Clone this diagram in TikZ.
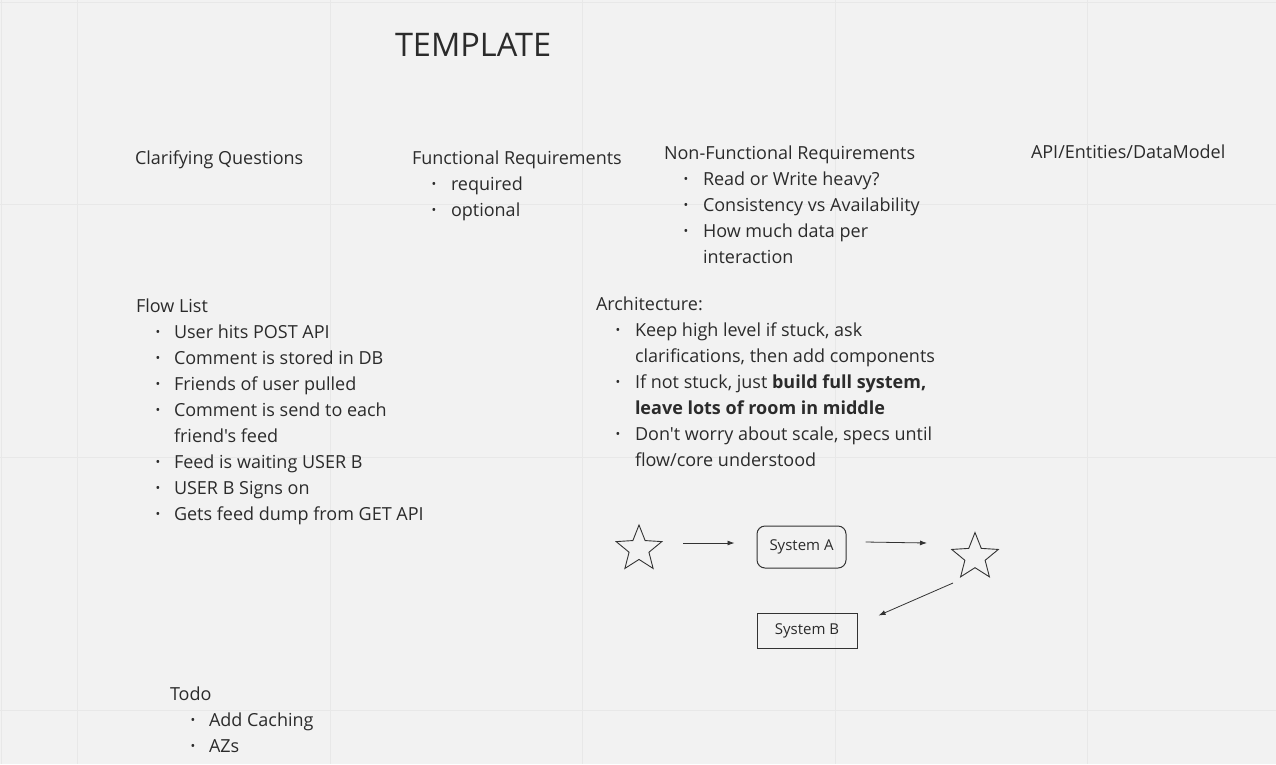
\documentclass[tikz,border=0pt]{standalone}
\usepackage{fontspec}
\setmainfont{Open Sans}[Ligatures=TeXOff]
\usetikzlibrary{shapes.geometric,arrows.meta}
\definecolor{bg}{HTML}{F2F2F2}
\definecolor{gridc}{HTML}{E8E8E8}
\definecolor{ink}{HTML}{2B2B2B}
\definecolor{linec}{HTML}{333333}
\tikzset{
 txt/.style={anchor=base west, inner sep=0pt, outer sep=0pt, text=ink, font=\fontsize{18}{26}\selectfont},
 bul/.style={anchor=base, inner sep=0pt, outer sep=0pt, text=ink, font=\fontsize{12.5}{14}\selectfont},
 titletxt/.style={anchor=base west, inner sep=0pt, outer sep=0pt, text=ink, font=\fontsize{32.5}{38}\selectfont},
 sysbox/.style={draw=linec, line width=1pt, text=ink, font=\fontsize{15}{18}\selectfont, inner sep=0pt},
 starnode/.style={draw=linec, line width=0.9pt, shape=star, star points=5, star point ratio=2.3, inner sep=0pt},
 arr/.style={draw=linec, line width=0.8pt, -{Latex[length=7pt,width=5pt]}},
 gridline/.style={draw=gridc, line width=0.6pt}
}
\begin{document}
\begin{tikzpicture}[x=1pt,y=-1pt]
\useasboundingbox (0,0) rectangle (1276,764);
\fill[bg] (0,0) rectangle (1276,764);
% faint grid
\foreach \gx in {77,330,582,835,1087} \draw[gridline] (\gx,0) -- (\gx,764);
\foreach \gy in {204,457,710} \draw[gridline] (0,\gy) -- (1276,\gy);
\draw[gridline] (0,2) -- (1276,2);
\draw[gridline] (1,0) -- (1,764);

% title
\node[titletxt] (title) at (395,56) {TEMPLATE};

% headings row 1
\node[txt] (cq) at (135,164) {Clarifying Questions};
\node[txt] (fr) at (412,164) {Functional Requirements};
\node[bul] (frb1) at (434,188) {•};
\node[txt] (fr1) at (451,190) {required};
\node[bul] (frb2) at (434,214) {•};
\node[txt] (fr2) at (451,216) {optional};

\node[txt] (nfr) at (664,159) {Non-Functional Requirements};
\node[bul] (nfb1) at (686,183) {•};
\node[txt] (nf1) at (703,185) {Read or Write heavy?};
\node[bul] (nfb2) at (686,209) {•};
\node[txt] (nf2) at (703,211) {Consistency vs Availability};
\node[bul] (nfb3) at (686,235) {•};
\node[txt] (nf3) at (703,237) {How much data per};
\node[txt] (nf3b) at (703,263) {interaction};

\node[txt] (api) at (1031,158) {API/Entities/DataModel};

% flow list
\node[txt] (fl) at (136,312) {Flow List};
\node[bul] (flb1) at (158,336) {•};
\node[txt] (fl1) at (174,338) {User hits POST API};
\node[bul] (flb2) at (158,362) {•};
\node[txt] (fl2) at (174,364) {Comment is stored in DB};
\node[bul] (flb3) at (158,388) {•};
\node[txt] (fl3) at (174,390) {Friends of user pulled};
\node[bul] (flb4) at (158,414) {•};
\node[txt] (fl4) at (174,416) {Comment is send to each};
\node[txt] (fl4b) at (174,442) {friend's feed};
\node[bul] (flb5) at (158,466) {•};
\node[txt] (fl5) at (174,468) {Feed is waiting USER B};
\node[bul] (flb6) at (158,492) {•};
\node[txt] (fl6) at (174,494) {USER B Signs on};
\node[bul] (flb7) at (158,518) {•};
\node[txt] (fl7) at (174,520) {Gets feed dump from GET API};

% architecture
\node[txt] (ar) at (596,310) {Architecture:};
\node[bul] (arb1) at (618,334) {•};
\node[txt] (ar1) at (635,336) {Keep high level if stuck, ask};
\node[txt] (ar1b) at (635,362) {clarifications, then add components};
\node[bul] (arb2) at (618,386) {•};
\node[txt] (ar2) at (635,388) {If not stuck, just \textbf{build full system,}};
\node[txt] (ar2b) at (635,414) {\textbf{leave lots of room in middle}};
\node[bul] (arb3) at (618,438) {•};
\node[txt] (ar3) at (635,440) {Don't worry about scale, specs until};
\node[txt] (ar3b) at (635,466) {flow/core understood};

% todo
\node[txt] (td) at (170,700) {Todo};
\node[bul] (tdb1) at (193,724) {•};
\node[txt] (td1) at (209,726) {Add Caching};
\node[bul] (tdb2) at (193,750) {•};
\node[txt] (td2) at (209,752) {AZs};

% small diagram
\node[starnode, minimum size=48pt] (s1) at (639,549) {};
\node[sysbox, rounded corners=8pt, minimum width=89pt, minimum height=42pt] (sa) at (801.5,547) {System A};
\node[starnode, minimum size=49pt] (s2) at (975,557) {};
\node[sysbox, minimum width=100pt, minimum height=35pt] (sb) at (807,630.5) {System B};

\draw[arr] ([shift={(44,-6)}]s1.center) -- ([shift={(-22,-4)}]sa.west);
\draw[arr] ([shift={(19,-5)}]sa.east) -- ([shift={(-48,-14)}]s2.center);
\draw[arr] ([shift={(-22,26)}]s2.center) -- ([shift={(21,3)}]sb.north east);
\end{tikzpicture}
\end{document}
